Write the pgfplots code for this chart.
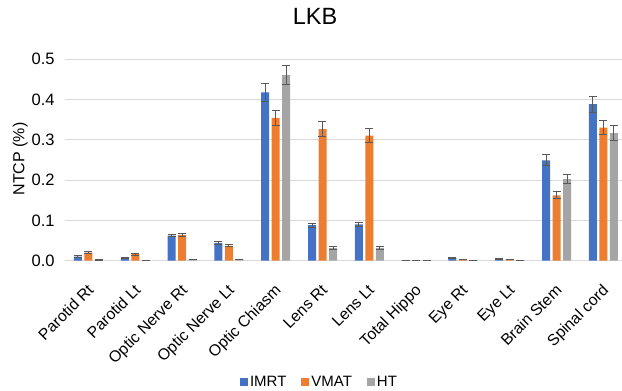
\documentclass[border=0pt]{standalone}
\usepackage{pgfplots}
\pgfplotsset{compat=1.18}
\usepackage{pgfplotstable}
\usepackage{fontspec}
\setmainfont{Liberation Sans}
\definecolor{cImrt}{HTML}{4472C4}
\definecolor{cVmat}{HTML}{ED7D31}
\definecolor{cHt}{HTML}{A5A5A5}
\definecolor{cErr}{HTML}{595959}
\definecolor{cGrid}{HTML}{D9D9D9}
\pgfplotstableread{
x y e
0 0.010 0.002
1 0.007 0.002
2 0.062 0.003
3 0.044 0.003
4 0.417 0.022
5 0.088 0.005
6 0.090 0.005
7 0.001 0.0005
8 0.007 0.002
9 0.005 0.001
10 0.249 0.014
11 0.388 0.020
}\tabImrt
\pgfplotstableread{
x y e
0 0.020 0.002
1 0.016 0.002
2 0.064 0.003
3 0.037 0.003
4 0.354 0.018
5 0.326 0.018
6 0.310 0.017
7 0.001 0.0005
8 0.003 0.001
9 0.003 0.001
10 0.162 0.009
11 0.330 0.018
}\tabVmat
\pgfplotstableread{
x y e
0 0.002 0.0005
1 0.001 0.0005
2 0.003 0.001
3 0.003 0.001
4 0.460 0.024
5 0.031 0.003
6 0.032 0.003
7 0.001 0.0005
8 0.001 0.0005
9 0.001 0.0005
10 0.202 0.011
11 0.316 0.018
}\tabHt
\begin{document}
\begin{tikzpicture}
\begin{axis}[
  scale only axis,
  width=561.6pt, height=201.7pt,
  ymin=0, ymax=0.5,
  xmin=-0.5, xmax=11.5,
  ytick={0,0.1,0.2,0.3,0.4,0.5},
  xtick={0,...,11},
  xticklabels={Parotid Rt,Parotid Lt,Optic Nerve Rt,Optic Nerve Lt,Optic Chiasm,Lens Rt,Lens Lt,Total Hippo,Eye Rt,Eye Lt,Brain Stem,Spinal cord},
  x tick label style={xshift=-2pt, yshift=-21pt, rotate=45, anchor=north east, inner sep=1pt, font=\fontsize{15.8}{17}\selectfont},
  y tick label style={font=\fontsize{16.5}{17}\selectfont, xshift=-7pt, /pgf/number format/fixed, /pgf/number format/fixed zerofill, /pgf/number format/precision=1},
  /pgf/number format/assume math mode=true,
  major tick length=0pt,
  ymajorgrids, grid style={cGrid, line width=1pt},
  axis x line*=bottom, axis y line*=left,
  y axis line style={draw=none},
  x axis line style={cGrid, line width=1pt, -},
  ybar=2.5pt, bar width=8pt,
  title={LKB},
  title style={at={(axis description cs:0.445,1.181)}, anchor=center, font=\fontsize{23.5}{24}\selectfont},
  ylabel={NTCP (\%)},
  ylabel style={at={(axis description cs:-0.0798,0.504)}, anchor=center, font=\fontsize{16}{17}\selectfont},
  legend columns=3,
  legend style={at={(axis description cs:0.453,-0.601)}, anchor=center, draw=none, font=\fontsize{15}{16}\selectfont, /tikz/every even column/.append style={column sep=13pt}},
  legend image code/.code={\fill[#1] (0pt,-4pt) rectangle (8pt,4pt);},
  error bars/y dir=both, error bars/y explicit,
  error bars/error bar style={cErr, line width=1pt},
  error bars/error mark options={rotate=90, cErr, mark size=4pt, line width=1pt},
]
\addplot[fill=cImrt, draw=none] table[x=x, y=y, y error=e]{\tabImrt};
\addplot[fill=cVmat, draw=none] table[x=x, y=y, y error=e]{\tabVmat};
\addplot[fill=cHt, draw=none] table[x=x, y=y, y error=e]{\tabHt};
\legend{IMRT,VMAT,HT}
\end{axis}
\pgfresetboundingbox
\path (-65.1pt,-130.3pt) rectangle (556.9pt,260.7pt);
\end{tikzpicture}
\end{document}
